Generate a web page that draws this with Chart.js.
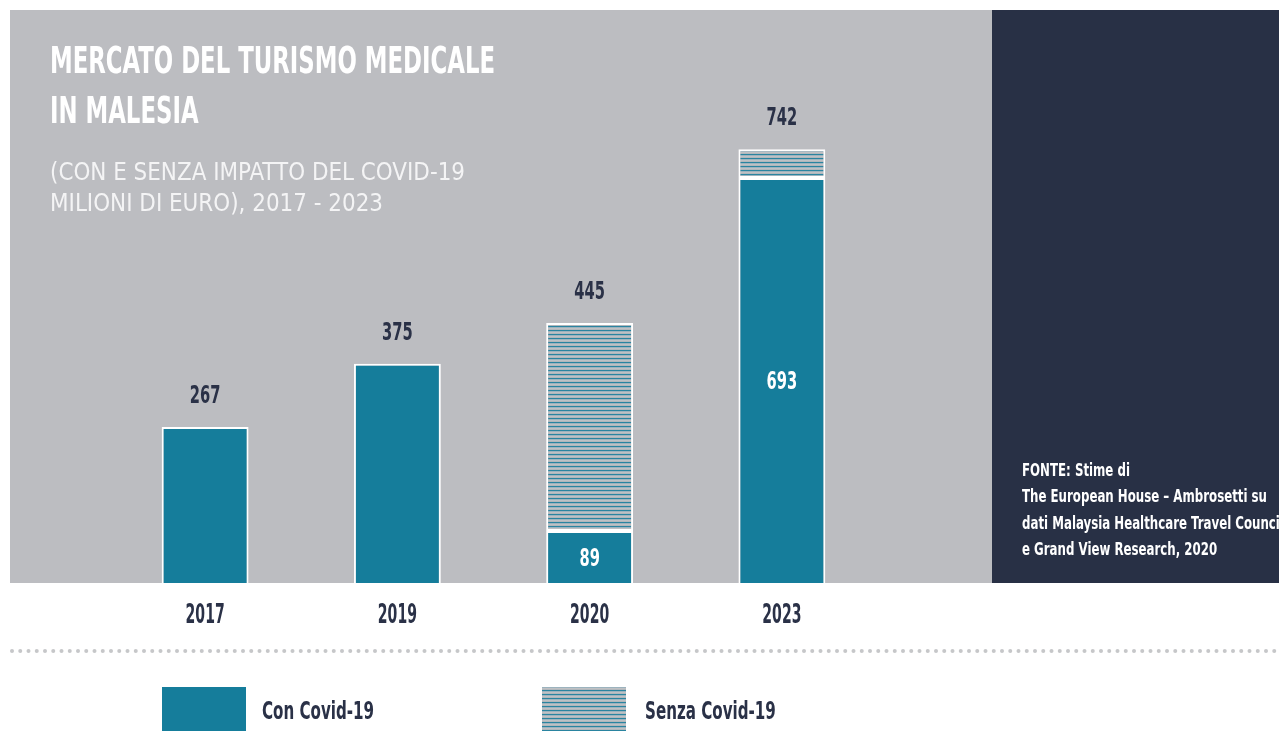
<!DOCTYPE html>
<html>
<head>
<meta charset="utf-8">
<script src="https://cdn.jsdelivr.net/npm/chart.js@4.4.1/dist/chart.umd.min.js"></script>
<style>
  html, body { margin: 0; padding: 0; background: #ffffff; }
  #wrap { width: 1279px; height: 732px; position: relative; }
</style>
</head>
<body>
<div id="wrap"><canvas id="chart" width="1279" height="732"></canvas></div>
<script>
// --- data ---
const years = ['2017', '2019', '2020', '2023'];
const conCovid = [267, 375, 89, 693];
const senzaCovidTotal = [null, null, 445, 742];
const seriesLabels = ['Con Covid-19', 'Senza Covid-19'];
const titleLines = ['MERCATO DEL TURISMO MEDICALE', 'IN MALESIA'];
const subtitleLines = ['(CON E SENZA IMPATTO DEL COVID-19', 'MILIONI DI EURO), 2017 - 2023'];
const sourceLines = [
    'FONTE: Stime di',
    'The European House – Ambrosetti su',
    'dati Malaysia Healthcare Travel Council',
    'e Grand View Research, 2020'
];

// extra part of the bar when there is no covid impact
const senzaExtra = senzaCovidTotal.map((t, i) => t === null ? 0 : t - conCovid[i]);

const colors = {
    panel: '#bcbdc1',
    navy: '#283045',
    teal: '#157d9b',
    text: '#2a3147',
    dots: '#c6c7c9'
};
const COND = '"Liberation Sans Narrow", "DejaVu Sans Condensed", "Roboto", sans-serif';

const canvas = document.getElementById('chart');
const ctx = canvas.getContext('2d');

// horizontal stripes used for "Senza Covid-19"
function makeStripes() {
    const c = document.createElement('canvas');
    c.width = 4;
    c.height = 4;
    const g = c.getContext('2d');
    const rows = ['#bfc1c4', '#b1b7bc', '#2a84a0', '#9cb3be'];
    rows.forEach((col, i) => {
        g.fillStyle = col;
        g.fillRect(0, i, 4, 1);
    });
    return ctx.createPattern(c, 'repeat');
}
const stripes = makeStripes();

// draw text squeezed horizontally to look like a condensed face
function squeezed(text, x, y, sx) {
    ctx.save();
    ctx.translate(x, y);
    ctx.scale(sx, 1);
    ctx.fillText(text, 0, 0);
    ctx.restore();
}
function fitScale(text, width) {
    return width / ctx.measureText(text).width;
}

const decorPlugin = {
    id: 'decor',
    beforeDraw(chart) {
        const c = chart.ctx;
        c.save();
        c.fillStyle = '#ffffff';
        c.fillRect(0, 0, chart.width, chart.height);
        c.fillStyle = colors.panel;
        c.fillRect(10, 10, 982, 573);
        c.fillStyle = colors.navy;
        c.fillRect(992, 10, 287, 573);

        // dotted separator
        c.fillStyle = colors.dots;
        for (let x = 12; x < chart.width; x += 8.25) {
            c.beginPath();
            c.arc(x, 651, 2, 0, Math.PI * 2);
            c.fill();
        }
        c.restore();
    },
    afterDatasetsDraw(chart) {
        const c = chart.ctx;
        const metaCon = chart.getDatasetMeta(0);
        const metaSenza = chart.getDatasetMeta(1);
        c.save();
        c.textAlign = 'center';
        c.textBaseline = 'alphabetic';
        c.font = 'bold 24px ' + COND;
        years.forEach((y, i) => {
            const top = senzaExtra[i] > 0 ? metaSenza.data[i] : metaCon.data[i];
            const total = senzaCovidTotal[i] !== null ? senzaCovidTotal[i] : conCovid[i];
            c.fillStyle = colors.text;
            squeezed(String(total), top.x, top.y - 24, 0.68);
            if (senzaExtra[i] > 0) {
                const bar = metaCon.data[i];
                c.fillStyle = '#ffffff';
                squeezed(String(conCovid[i]), bar.x, (bar.y + bar.base) / 2 + 9, 0.68);
            }
        });

        // category labels under the bars, placed by the x scale
        const xs = chart.scales.x;
        c.font = 'bold 26px ' + COND;
        c.fillStyle = colors.text;
        chart.data.labels.forEach((lab, i) => {
            squeezed(lab, xs.getPixelForTick(i), 623, 0.6);
        });
        c.restore();
    },
    afterDraw(chart) {
        const c = chart.ctx;
        c.save();
        c.textAlign = 'left';
        c.textBaseline = 'alphabetic';

        // title
        c.fillStyle = '#ffffff';
        c.font = 'bold 38px ' + COND;
        const ts = fitScale(titleLines[0], 445);
        squeezed(titleLines[0], 50, 73, ts);
        squeezed(titleLines[1], 50, 123, ts);

        // subtitle
        c.fillStyle = '#f4f4f5';
        c.font = '24px ' + COND;
        const ss = fitScale(subtitleLines[0], 415);
        squeezed(subtitleLines[0], 50, 180, ss);
        squeezed(subtitleLines[1], 50, 211, ss);

        // source
        c.fillStyle = '#ffffff';
        c.font = 'bold 17px ' + COND;
        const fs = fitScale(sourceLines[1], 245);
        sourceLines.forEach((line, i) => squeezed(line, 1022, 476 + i * 26.3, fs));

        // legend
        const items = [
            { x: 162, fill: chart.data.datasets[0].backgroundColor, label: chart.data.datasets[0].label, tx: 262 },
            { x: 542, fill: chart.data.datasets[1].backgroundColor, label: chart.data.datasets[1].label, tx: 645 }
        ];
        c.font = 'bold 24px ' + COND;
        items.forEach(it => {
            c.fillStyle = it.fill;
            c.fillRect(it.x, 687, 84, 44);
            c.fillStyle = colors.text;
            squeezed(it.label, it.tx, 719, 0.7);
        });
        c.restore();
    }
};

new Chart(ctx, {
    type: 'bar',
    data: {
        labels: years,
        datasets: [
            {
                label: seriesLabels[0],
                data: conCovid,
                backgroundColor: colors.teal,
                borderColor: '#ffffff',
                borderWidth: 2,
                borderSkipped: 'start',
                categoryPercentage: 0.452,
                barPercentage: 1
            },
            {
                label: seriesLabels[1],
                data: senzaExtra,
                backgroundColor: stripes,
                borderColor: '#ffffff',
                borderWidth: 2,
                borderSkipped: false,
                categoryPercentage: 0.452,
                barPercentage: 1
            }
        ]
    },
    options: {
        responsive: false,
        animation: false,
        events: [],
        layout: { padding: { left: 109, right: 401, top: 57, bottom: 0 } },
        plugins: {
            legend: { display: false },
            tooltip: { enabled: false }
        },
        scales: {
            x: {
                stacked: true,
                grid: { display: false, drawTicks: false },
                border: { display: false },
                ticks: { display: false },
                afterFit(scale) { scale.height = 149; }
            },
            y: {
                stacked: true,
                display: false,
                min: 0,
                max: 900
            }
        }
    },
    plugins: [decorPlugin]
});
</script>
</body>
</html>
